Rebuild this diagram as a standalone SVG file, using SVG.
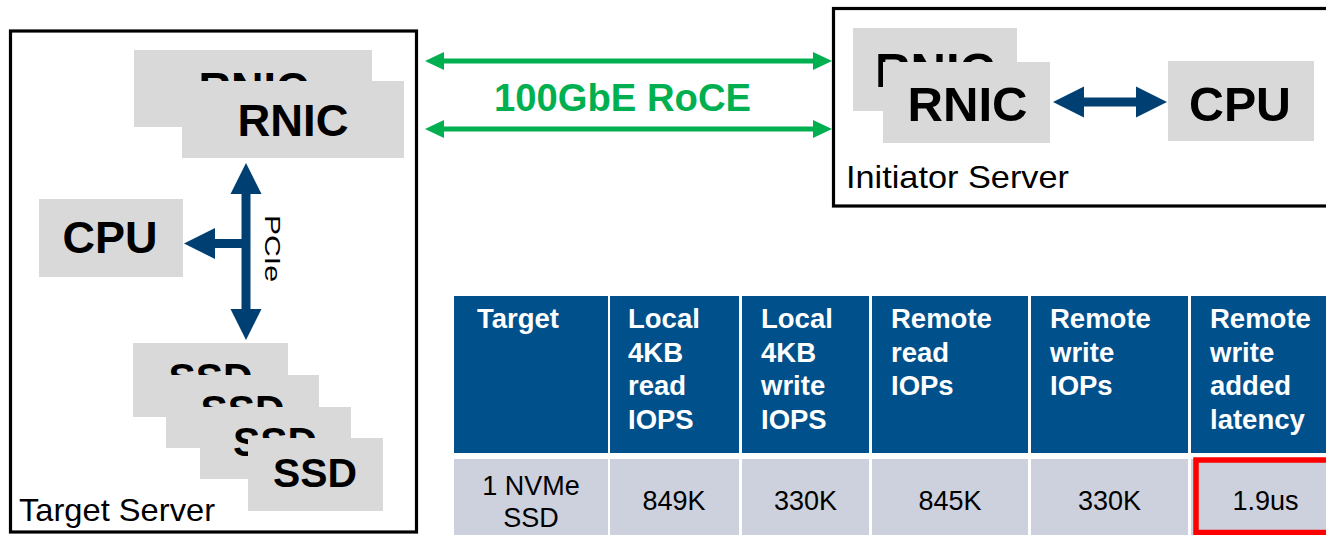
<svg xmlns="http://www.w3.org/2000/svg" width="1326" height="535" viewBox="0 0 1326 535">
  <style>
    text { font-family: "Liberation Sans", Arial, sans-serif; }
    .server { fill: #ffffff; stroke: #000000; stroke-width: 3.2; }
    .chip { fill: #d9d9d9; }
    .chip-label { font-weight: bold; fill: #000000; text-anchor: middle; }
    .server-label { fill: #000000; font-size: 32px; }
    .link-green { stroke: #00b050; stroke-width: 5; fill: none; }
    .link-blue { stroke: #003f72; stroke-width: 9; fill: none; }
    .th { fill: #00508c; }
    .td { fill: #cdd1dd; }
    .th-text { fill: #ffffff; font-weight: bold; font-size: 27.5px; }
    .td-text { fill: #000000; font-size: 27px; text-anchor: middle; }
    .highlight { fill: none; stroke: #ff0000; stroke-width: 5.5; }
  </style>
  <defs>
    <marker id="head-green" markerUnits="userSpaceOnUse" markerWidth="19" markerHeight="20" refX="1" refY="10" orient="auto-start-reverse" overflow="visible">
      <path d="M0,1 L19,10 L0,19 Z" fill="#00b050"/>
    </marker>
    <marker id="head-blue" markerUnits="userSpaceOnUse" markerWidth="31" markerHeight="31" refX="1" refY="15.5" orient="auto-start-reverse" overflow="visible">
      <path d="M0,0 L31,15.5 L0,31 Z" fill="#003f72"/>
    </marker>
  </defs>

  <!-- Target server enclosure -->
  <g id="target-server">
    <rect class="server" x="10.5" y="31" width="406" height="501"/>
    <text class="server-label" x="19" y="521" textLength="196" lengthAdjust="spacingAndGlyphs">Target Server</text>
  </g>

  <!-- Initiator server enclosure (runs off the right edge) -->
  <g id="initiator-server">
    <rect class="server" x="833.5" y="8.5" width="600" height="197.5"/>
    <text class="server-label" x="846" y="188" textLength="223" lengthAdjust="spacingAndGlyphs">Initiator Server</text>
  </g>

  <!-- Target side RNIC pair -->
  <g id="target-rnic-back">
    <rect class="chip" x="134" y="50" width="238" height="77"/>
    <text class="chip-label" x="253.5" y="104" font-size="45" textLength="110" lengthAdjust="spacingAndGlyphs">RNIC</text>
  </g>
  <g id="target-rnic">
    <rect class="chip" x="182" y="81" width="222" height="77"/>
    <text class="chip-label" x="293" y="136" font-size="45" textLength="111" lengthAdjust="spacingAndGlyphs">RNIC</text>
  </g>

  <g id="target-cpu">
    <rect class="chip" x="39" y="199" width="144" height="78"/>
    <text class="chip-label" x="110" y="253" font-size="45" textLength="95" lengthAdjust="spacingAndGlyphs">CPU</text>
  </g>

  <!-- SSD stack, drawn back to front -->
  <g id="ssd-1">
    <rect class="chip" x="133" y="343" width="155" height="74"/>
    <text class="chip-label" x="210.5" y="392" font-size="41" textLength="84" lengthAdjust="spacingAndGlyphs">SSD</text>
  </g>
  <g id="ssd-2">
    <rect class="chip" x="166" y="375" width="153" height="73"/>
    <text class="chip-label" x="242.5" y="424" font-size="41" textLength="84" lengthAdjust="spacingAndGlyphs">SSD</text>
  </g>
  <g id="ssd-3">
    <rect class="chip" x="200" y="407" width="151" height="72"/>
    <text class="chip-label" x="275" y="456" font-size="41" textLength="84" lengthAdjust="spacingAndGlyphs">SSD</text>
  </g>
  <g id="ssd-4">
    <rect class="chip" x="248" y="438" width="135" height="73"/>
    <text class="chip-label" x="315" y="487" font-size="41" textLength="84" lengthAdjust="spacingAndGlyphs">SSD</text>
  </g>

  <!-- Initiator side RNIC pair and CPU -->
  <g id="initiator-rnic-back">
    <rect class="chip" x="853" y="28" width="164" height="83"/>
    <text class="chip-label" x="935" y="87" font-size="49" textLength="120" lengthAdjust="spacingAndGlyphs">RNIC</text>
  </g>
  <g id="initiator-rnic">
    <rect class="chip" x="883" y="62" width="167" height="81"/>
    <text class="chip-label" x="967.5" y="121" font-size="49" textLength="120" lengthAdjust="spacingAndGlyphs">RNIC</text>
  </g>
  <g id="initiator-cpu">
    <rect class="chip" x="1168" y="61" width="146" height="80"/>
    <text class="chip-label" x="1240" y="121" font-size="49" textLength="102" lengthAdjust="spacingAndGlyphs">CPU</text>
  </g>

  <!-- Links -->
  <g id="connectors">
    <line class="link-green" x1="443" y1="61" x2="814" y2="61" marker-start="url(#head-green)" marker-end="url(#head-green)"/>
    <line class="link-green" x1="443" y1="129" x2="814" y2="129" marker-start="url(#head-green)" marker-end="url(#head-green)"/>
    <text x="622.5" y="111" font-size="38" font-weight="bold" fill="#00b050" text-anchor="middle" textLength="257" lengthAdjust="spacingAndGlyphs">100GbE RoCE</text>

    <!-- PCIe bus: RNIC <-> SSDs, branch to CPU -->
    <line class="link-blue" x1="246" y1="193" x2="246" y2="310" marker-start="url(#head-blue)" marker-end="url(#head-blue)"/>
    <line class="link-blue" x1="250" y1="243.5" x2="214" y2="243.5" marker-end="url(#head-blue)"/>
    <text transform="translate(265,215) rotate(90)" font-size="22" fill="#000000" textLength="67" lengthAdjust="spacingAndGlyphs">PCIe</text>

    <line class="link-blue" x1="1083" y1="102" x2="1137" y2="102" marker-start="url(#head-blue)" marker-end="url(#head-blue)"/>
  </g>

  <!-- Results table -->
  <g id="results-table">
    <rect class="th" x="454" y="296" width="154" height="157"/>
    <rect class="th" x="610" y="296" width="129" height="157"/>
    <rect class="th" x="742" y="296" width="127" height="157"/>
    <rect class="th" x="872" y="296" width="156" height="157"/>
    <rect class="th" x="1031" y="296" width="157" height="157"/>
    <rect class="th" x="1191" y="296" width="160" height="157"/>

    <rect class="td" x="454" y="459" width="154" height="80"/>
    <rect class="td" x="610" y="459" width="129" height="80"/>
    <rect class="td" x="742" y="459" width="127" height="80"/>
    <rect class="td" x="872" y="459" width="156" height="80"/>
    <rect class="td" x="1031" y="459" width="157" height="80"/>
    <rect class="td" x="1191" y="459" width="160" height="80"/>

    <text class="th-text" x="477" y="328">Target</text>
    <text class="th-text" x="628" y="328">Local<tspan x="628" y="361.5">4KB</tspan><tspan x="628" y="395">read</tspan><tspan x="628" y="428.5">IOPS</tspan></text>
    <text class="th-text" x="761" y="328">Local<tspan x="761" y="361.5">4KB</tspan><tspan x="761" y="395">write</tspan><tspan x="761" y="428.5">IOPS</tspan></text>
    <text class="th-text" x="891" y="328">Remote<tspan x="891" y="361.5">read</tspan><tspan x="891" y="395">IOPs</tspan></text>
    <text class="th-text" x="1050" y="328">Remote<tspan x="1050" y="361.5">write</tspan><tspan x="1050" y="395">IOPs</tspan></text>
    <text class="th-text" x="1210" y="328">Remote<tspan x="1210" y="361.5">write</tspan><tspan x="1210" y="395">added</tspan><tspan x="1210" y="428.5">latency</tspan></text>

    <text class="td-text" x="531" y="495">1 NVMe<tspan x="531" y="527">SSD</tspan></text>
    <text class="td-text" x="674" y="510">849K</text>
    <text class="td-text" x="805.5" y="510">330K</text>
    <text class="td-text" x="950" y="510">845K</text>
    <text class="td-text" x="1109.5" y="510">330K</text>
    <text class="td-text" x="1265.5" y="510">1.9us</text>

    <rect class="highlight" x="1196" y="460" width="200" height="72.5"/>
  </g>
</svg>
